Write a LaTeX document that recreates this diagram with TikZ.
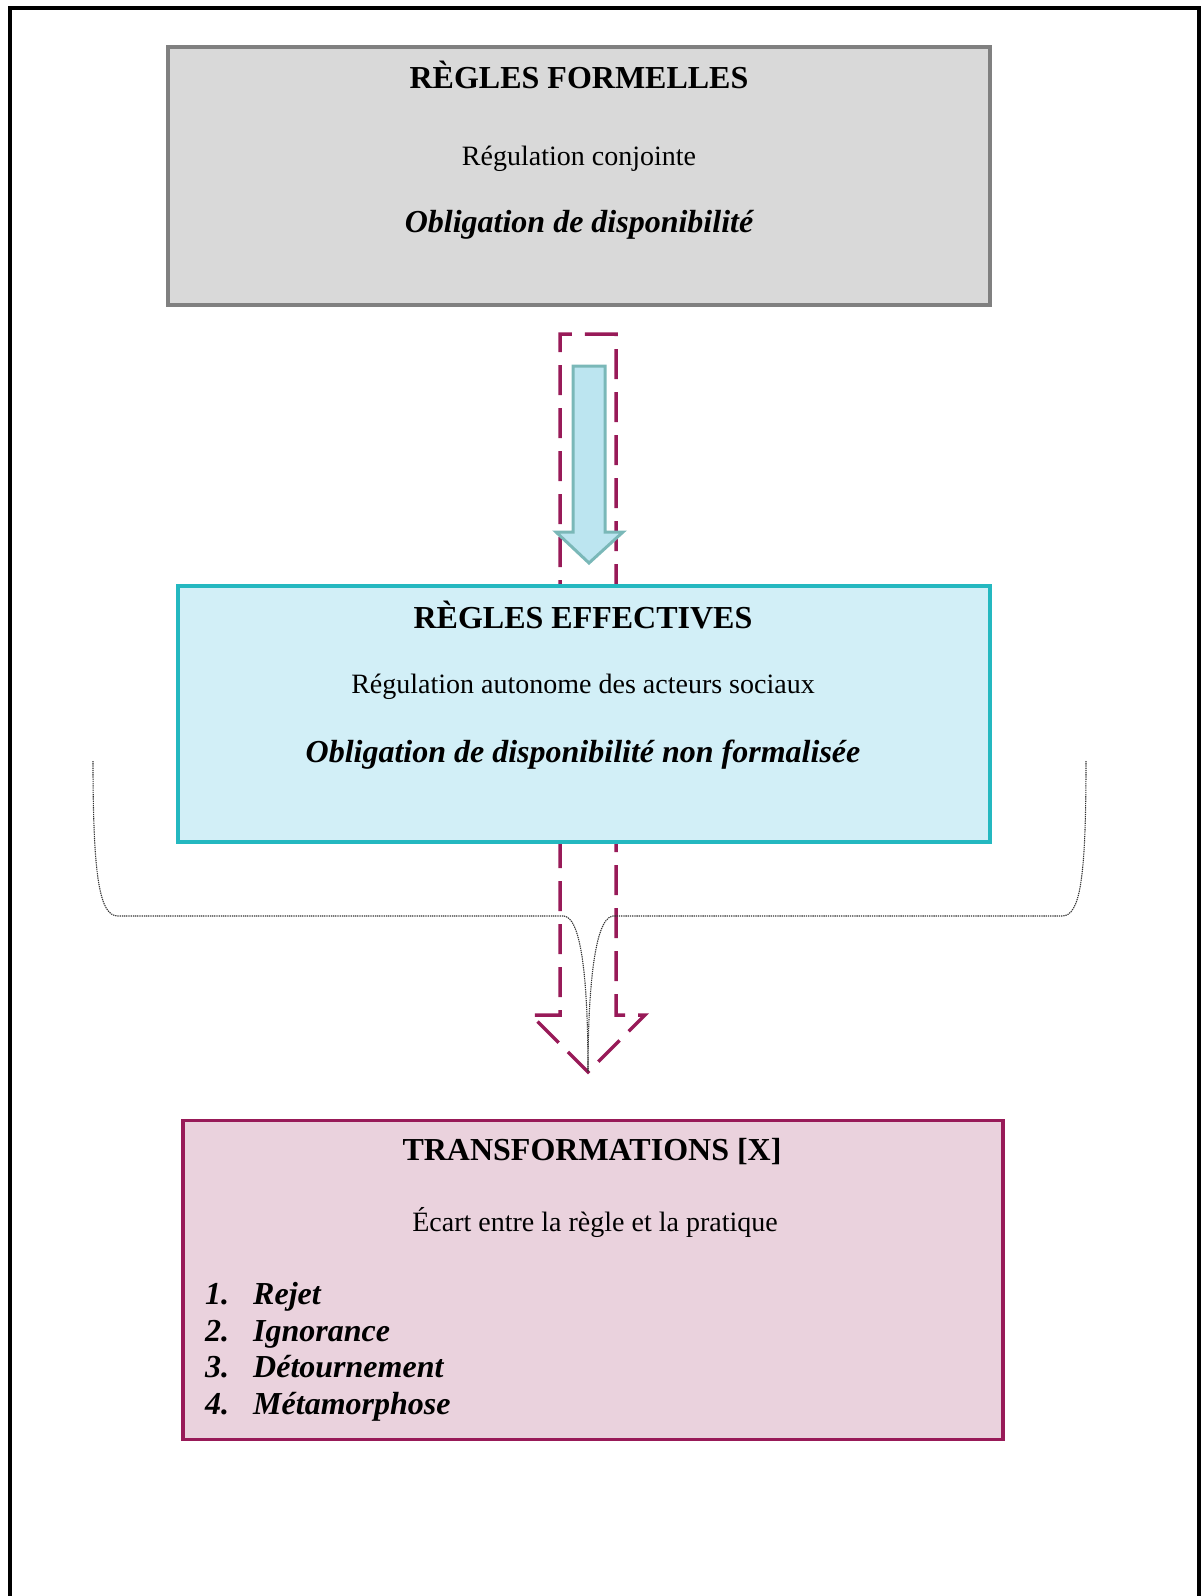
\documentclass[tikz,border=0pt]{standalone}
\usepackage{fontspec}
\setmainfont{Liberation Serif}
\definecolor{plum}{RGB}{152,26,88}
\definecolor{pinkfill}{RGB}{234,210,221}
\definecolor{cyanfill}{RGB}{210,239,247}
\definecolor{cyanline}{RGB}{36,184,192}
\definecolor{grayfill}{RGB}{217,217,217}
\definecolor{grayline}{RGB}{128,128,128}
\definecolor{arrfill}{RGB}{188,229,240}
\definecolor{arrline}{RGB}{122,184,184}
\tikzset{
  box/.style={inner sep=0pt, line width=3.5pt},
  ttl/.style={anchor=base, font=\fontsize{32}{38}\selectfont\bfseries},
  reg/.style={anchor=base, font=\fontsize{28}{34}\selectfont},
  emph/.style={anchor=base, font=\fontsize{32}{38}\selectfont\bfseries\itshape},
  item/.style={anchor=base west, font=\fontsize{32}{38}\selectfont\bfseries\itshape, inner sep=0pt},
  brace/.style={line width=1.1pt, dash pattern=on 1.3pt off 0.9pt, black!80},
}
\begin{document}
\begin{tikzpicture}[x=1pt,y=-1pt]
\useasboundingbox (0,0) rectangle (1204,1596);
% page frame
\draw[line width=4pt, line join=miter] (10,1600) -- (10,8) -- (1199,8) -- (1199,1600);
% dashed block arrow
\draw[plum, line width=3.5pt, dash pattern=on 30pt off 13pt]
  (588,334) -- (616,334) -- (616,1015) -- (645,1015) -- (588,1072) -- (531,1015) -- (560,1015) -- (560,334) -- cycle;
% dotted brace
\coordinate (bl) at (93,761);
\coordinate (br) at (1086,761);
\coordinate (bt) at (588,1072);
\draw[brace] (bl) .. controls (93,880) and (100,916) .. (118,916) -- (564,916)
  .. controls (584,918) and (588,1000) .. (bt);
\draw[brace] (br) .. controls (1086,880) and (1080,916) .. (1062,916) -- (613,916)
  .. controls (593,918) and (588,1000) .. (bt);
% boxes
\node[box, draw=grayline, fill=grayfill, minimum width=822pt, minimum height=258pt] (formelles) at (579,176) {};
\node[box, draw=cyanline, fill=cyanfill, minimum width=812pt, minimum height=256pt] (effectives) at (584,714) {};
\node[box, draw=plum, fill=pinkfill, minimum width=820pt, minimum height=319pt] (transf) at (593,1280) {};
% solid arrow
\draw[arrline, fill=arrfill, line width=3pt]
  (573,366) -- (605,366) -- (605,532) -- (623,532) -- (589,563) -- (556,532) -- (573,532) -- cycle;
% texts box 1
\node[ttl] (t1) at (579,88) {RÈGLES FORMELLES};
\node[reg] (t2) at (579,165.5) {Régulation conjointe};
\node[emph] (t3) at (579,232) {Obligation de disponibilité};
% texts box 2
\node[ttl] (e1) at (583,628) {RÈGLES EFFECTIVES};
\node[reg] (e2) at (583,693) {Régulation autonome des acteurs sociaux};
\node[emph] (e3) at (583,762) {Obligation de disponibilité non formalisée};
% texts box 3
\node[ttl] (x1) at (592,1160) {TRANSFORMATIONS [X]};
\node[reg] (x2) at (595,1231) {Écart entre la règle et la pratique};
\node[item] (n1) at (205,1304.5) {1.};
\node[item] (i1) at (253,1304.5) {Rejet};
\node[item] (n2) at (205,1341) {2.};
\node[item] (i2) at (253,1341) {Ignorance};
\node[item] (n3) at (205,1377.5) {3.};
\node[item] (i3) at (253,1377.5) {Détournement};
\node[item] (n4) at (205,1414) {4.};
\node[item] (i4) at (253,1414) {Métamorphose};
\end{tikzpicture}
\end{document}
